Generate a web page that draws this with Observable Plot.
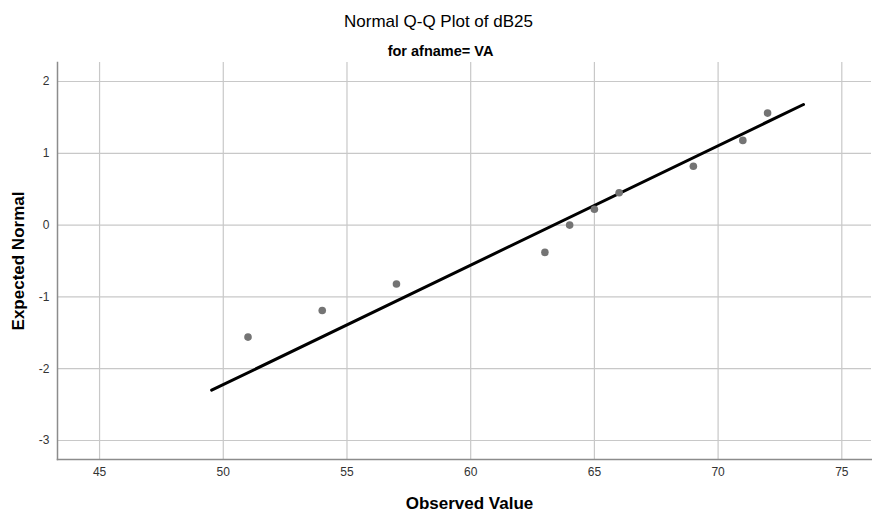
<!DOCTYPE html>
<html>
<head>
<meta charset="utf-8">
<script src="https://cdn.jsdelivr.net/npm/d3@7"></script>
<script src="https://cdn.jsdelivr.net/npm/@observablehq/plot@0.6"></script>
<style>
  html, body { margin: 0; padding: 0; background: #fff; }
  svg { display: block; }
</style>
</head>
<body>
<div id="chart"></div>
<script>
const titleText = "Normal Q-Q Plot of dB25";
const subtitleText = "for afname= VA";
const xLabel = "Observed Value";
const yLabel = "Expected Normal";

const observed = [51, 54, 57, 63, 64, 65, 66, 69, 71, 72];
const expected = [-1.56, -1.19, -0.82, -0.38, 0.0, 0.22, 0.45, 0.82, 1.18, 1.56];

const refLineX = [49.53, 73.45];
const refLineY = [-2.30, 1.68];

const xTicks = [45, 50, 55, 60, 65, 70, 75];
const yTicks = [-3, -2, -1, 0, 1, 2];

const points = observed.map((v, i) => ({x: v, y: expected[i]}));
const refLine = refLineX.map((v, i) => ({x: v, y: refLineY[i]}));

const font = "'Liberation Sans', Arial, sans-serif";
const fmt = d => String(d);

const chart = Plot.plot({
  width: 872,
  height: 513,
  marginTop: 62,
  marginLeft: 57,
  marginRight: 1,
  marginBottom: 54,
  style: {fontFamily: font, background: "#fff"},
  x: {domain: [43.3, 76.2]},
  y: {domain: [-3.265, 2.265]},
  marks: [
    Plot.gridX(xTicks, {stroke: "#c8c8c8", strokeOpacity: 1, strokeWidth: 1.2}),
    Plot.gridY(yTicks, {stroke: "#c8c8c8", strokeOpacity: 1, strokeWidth: 1.2}),
    Plot.frame({anchor: "left", stroke: "#8c8c8c", strokeWidth: 1.5}),
    Plot.frame({anchor: "bottom", stroke: "#8c8c8c", strokeWidth: 1.5}),
    Plot.axisX(xTicks, {tickSize: 0, tickPadding: 8, fontSize: 12, fill: "#333", label: null, tickFormat: fmt}),
    Plot.axisY(yTicks, {tickSize: 0, tickPadding: 8, fontSize: 12, fill: "#333", label: null, tickFormat: fmt}),
    Plot.line(refLine, {x: "x", y: "y", stroke: "#000", strokeWidth: 3}),
    Plot.dot(points, {x: "x", y: "y", r: 3.8, fill: "#747474", stroke: "none"}),
    Plot.text([titleText], {frameAnchor: "top", dy: -41, dx: -26, text: d => d, textAnchor: "middle", lineAnchor: "middle", fontSize: 17, fill: "#000", fontFamily: font}),
    Plot.text([subtitleText], {frameAnchor: "top", dy: -11, dx: -24, text: d => d, textAnchor: "middle", lineAnchor: "middle", fontSize: 14.5, fontWeight: "bold", fill: "#000", fontFamily: font}),
    Plot.text([xLabel], {frameAnchor: "bottom", dy: 44, dx: 5, text: d => d, textAnchor: "middle", lineAnchor: "middle", fontSize: 17, fontWeight: "bold", fill: "#000", fontFamily: font}),
    Plot.text([yLabel], {frameAnchor: "left", dx: -39, rotate: -90, text: d => d, textAnchor: "middle", lineAnchor: "middle", fontSize: 17, fontWeight: "bold", fill: "#000", fontFamily: font})
  ]
});
document.getElementById("chart").appendChild(chart);
</script>
</body>
</html>
